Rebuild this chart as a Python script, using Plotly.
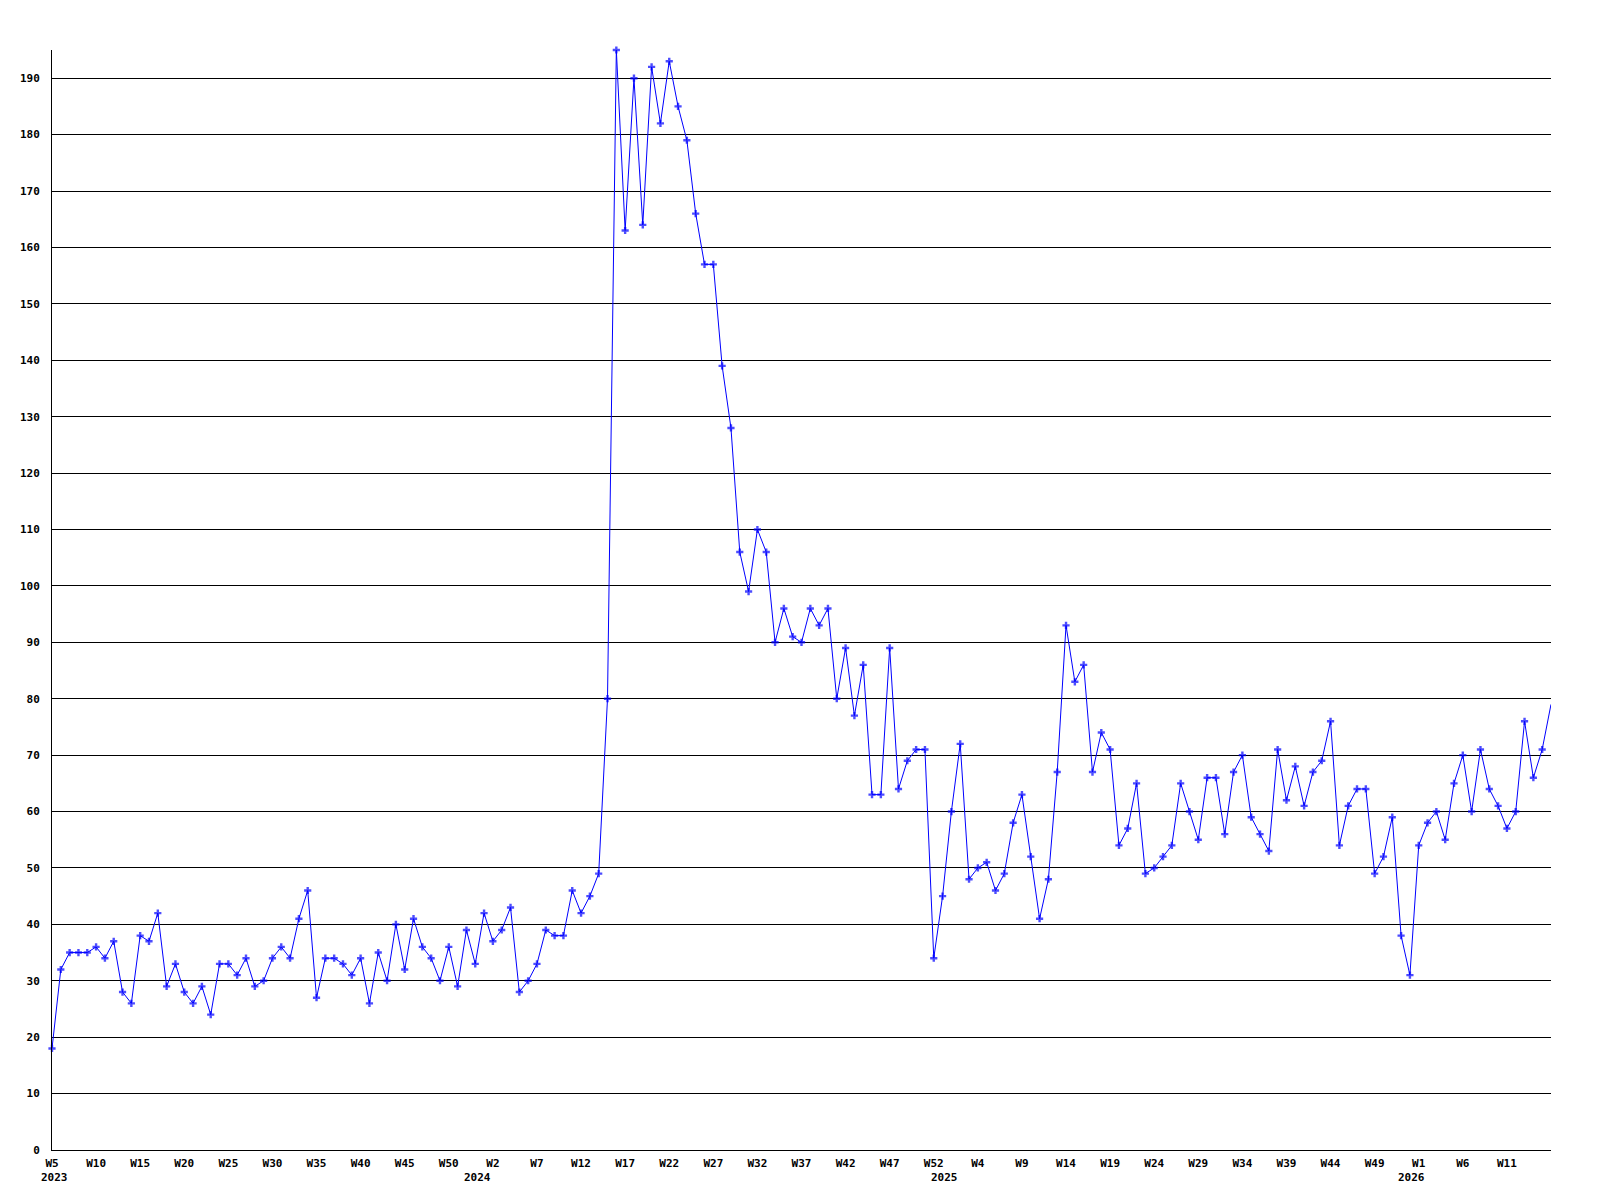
import plotly.graph_objects as go

# ---- data -------------------------------------------------------------
# week slots per year as used on the chart's x axis (W0..W52 each year)
year_weeks = [
    (2023, list(range(5, 53))),
    (2024, list(range(0, 53))),
    (2025, list(range(0, 53))),
    (2026, list(range(0, 17))),
]

values = [
    18, 32, 35, 35, 35, 36, 34, 37, 28, 26,
    38, 37, 42, 29, 33, 28, 26, 29, 24, 33,
    33, 31, 34, 29, 30, 34, 36, 34, 41, 46,
    27, 34, 34, 33, 31, 34, 26, 35, 30, 40,
    32, 41, 36, 34, 30, 36, 29, 39, 33, 42,
    37, 39, 43, 28, 30, 33, 39, 38, 38, 46,
    42, 45, 49, 80, 195, 163, 190, 164, 192, 182,
    193, 185, 179, 166, 157, 157, 139, 128, 106, 99,
    110, 106, 90, 96, 91, 90, 96, 93, 96, 80,
    89, 77, 86, 63, 63, 89, 64, 69, 71, 71,
    34, 45, 60, 72, 48, 50, 51, 46, 49, 58,
    63, 52, 41, 48, 67, 93, 83, 86, 67, 74,
    71, 54, 57, 65, 49, 50, 52, 54, 65, 60,
    55, 66, 66, 56, 67, 70, 59, 56, 53, 71,
    62, 68, 61, 67, 69, 76, 54, 61, 64, 64,
    49, 52, 59, 38, 31, 54, 58, 60, 55, 65,
    70, 60, 71, 64, 61, 57, 60, 76, 66, 71,
    79,
]

y_ticks = list(range(0, 200, 10))

# ---- derived categories ---------------------------------------------------
cat_year = []
cat_week = []
for yr, wks in year_weeks:
    for w in wks:
        cat_year.append(yr)
        cat_week.append(w)

n = len(values)
x = list(range(n))

tick_idx = list(range(0, n - 1, 5))
tick_txt = ["W%d" % cat_week[i] for i in tick_idx]

year_idx = [i for i in range(n) if i == 0 or cat_year[i] != cat_year[i - 1]]

marker_sizes = [6] * n
marker_sizes[-1] = 0

BLUE = "#0000FF"
FONT = "DejaVu Sans Mono"

fig = go.Figure()
fig.add_trace(go.Scatter(
    x=x, y=values, mode="lines+markers",
    line=dict(color=BLUE, width=1),
    marker=dict(symbol="cross", size=marker_sizes, color=BLUE, line=dict(width=0)),
    cliponaxis=False,
    showlegend=False,
))

for i in year_idx:
    fig.add_annotation(
        x=i, y=0, xref="x", yref="paper",
        text=str(cat_year[i]), showarrow=False,
        xanchor="center", yanchor="middle", yshift=-27, xshift=2,
        font=dict(family=FONT, size=11, color="black", weight="bold"),
    )

fig.update_layout(
    width=1584, height=1184,
    margin=dict(l=42, r=41, t=42, b=42),
    paper_bgcolor="white", plot_bgcolor="white",
    xaxis=dict(
        range=[0, n - 1], tickmode="array", tickvals=tick_idx, ticktext=tick_txt,
        showgrid=False, zeroline=False, showline=True, linecolor="black", linewidth=1,
        ticks="", ticklabelstandoff=3,
        tickfont=dict(family=FONT, size=11, color="black", weight="bold"),
    ),
    yaxis=dict(
        range=[0, 195], tickmode="array", tickvals=y_ticks,
        showgrid=True, gridcolor="black", gridwidth=1,
        zeroline=False, showline=True, linecolor="black", linewidth=1,
        ticks="", ticklabelstandoff=9,
        tickfont=dict(family=FONT, size=11, color="black", weight="bold"),
    ),
)

fig.write_html("out.html")
